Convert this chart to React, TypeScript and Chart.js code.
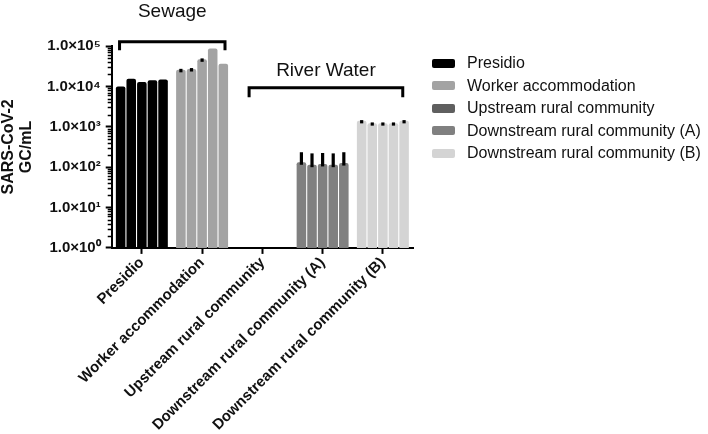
import React, { useEffect, useRef } from 'react';
import { Chart, registerables } from 'chart.js';

Chart.register(...registerables);

const FONT = '"Liberation Sans", Arial, sans-serif';

// ---- data ----
const categories = [
  'Presidio',
  'Worker accommodation',
  'Upstream rural community',
  'Downstream rural community (A)',
  'Downstream rural community (B)',
];
const categoryColors = ['#000000', '#a3a3a3', '#5f5f5f', '#808080', '#d4d4d4'];

// five replicate measurements per site (GC/mL)
const presidio = [10000, 15500, 12900, 14100, 14800];
const worker = [25700, 26900, 46800, 87000, 36300];
const upstream = [null, null, null, null, null];
const downstreamA = [132, 115, 120, 115, 126];
const downstreamB = [1400, 1230, 1230, 1230, 1400];

// upper error (SD) per replicate
const presidioErr = [0, 0, 0, 0, 0];
const workerErr = [1500, 1500, 2500, 0, 0];
const upstreamErr = [null, null, null, null, null];
const downstreamAErr = [102, 104, 104, 104, 108];
const downstreamBErr = [60, 50, 50, 50, 60];

const yMajorTicks = [1, 10, 100, 1000, 10000, 100000];
const yTickLabels = ['1.0×10⁰', '1.0×10¹', '1.0×10²', '1.0×10³', '1.0×10⁴', '1.0×10⁵'];
const yMinorMultipliers = [2, 3, 4, 5, 6, 7, 8, 9];

// group brackets (x in category units, y in data units)
const groupTitles = ['Sewage', 'River Water'];
const groupFrom = [-0.37, 1.78];
const groupTo = [1.38, 4.33];
const groupBracketTop = [128000, 9300];
const groupBracketFoot = [79000, 5400];
const groupTitleBaseline = [531000, 18100];

const siteValues = [presidio, worker, upstream, downstreamA, downstreamB];
const siteErrors = [presidioErr, workerErr, upstreamErr, downstreamAErr, downstreamBErr];

const overlayPlugin = {
  id: 'overlay',
  afterDatasetsDraw(chart: any) {
    const ctx = chart.ctx;
    const ys = chart.scales.y;
    ctx.save();
    chart.data.datasets.forEach((ds: any, i: number) => {
      const meta = chart.getDatasetMeta(i);
      meta.data.forEach((el: any, j: number) => {
        const v = ds.data[j];
        const e = ds.errors[j];
        if (v == null || !e) return;
        const yTop = ys.getPixelForValue(v + e);
        ctx.fillStyle = '#000';
        ctx.fillRect(el.x - 1.6, yTop, 3.2, el.y - yTop + 2.5);
      });
    });
    ctx.restore();
  },
  afterDraw(chart: any) {
    const ctx = chart.ctx;
    const xs = chart.scales.x;
    const ys = chart.scales.y;
    ctx.save();
    ctx.strokeStyle = '#000';
    ctx.lineWidth = 1.5;
    const axisX = ys.right;
    for (let m = 0; m < yMajorTicks.length - 1; m++) {
      for (const k of yMinorMultipliers) {
        const py = Math.round(ys.getPixelForValue(yMajorTicks[m] * k)) + 0.5;
        ctx.beginPath();
        ctx.moveTo(axisX - 4, py);
        ctx.lineTo(axisX, py);
        ctx.stroke();
      }
    }
    ctx.lineWidth = 3;
    ctx.lineJoin = 'miter';
    ctx.lineCap = 'butt';
    for (let g = 0; g < groupTitles.length; g++) {
      const xl = xs.getPixelForValue(groupFrom[g]);
      const xr = xs.getPixelForValue(groupTo[g]);
      const yt = ys.getPixelForValue(groupBracketTop[g]);
      const yf = ys.getPixelForValue(groupBracketFoot[g]);
      ctx.beginPath();
      ctx.moveTo(xl, yf);
      ctx.lineTo(xl, yt);
      ctx.lineTo(xr, yt);
      ctx.lineTo(xr, yf);
      ctx.stroke();
      ctx.fillStyle = '#111';
      ctx.font = `19px ${FONT}`;
      ctx.textAlign = 'center';
      ctx.textBaseline = 'alphabetic';
      ctx.fillText(groupTitles[g], (xl + xr) / 2, ys.getPixelForValue(groupTitleBaseline[g]));
    }
    ctx.restore();
  },
};

export default function App() {
  const canvasRef = useRef<HTMLCanvasElement | null>(null);

  useEffect(() => {
    if (!canvasRef.current) return;
    Chart.defaults.font.family = FONT;
    const datasets = [0, 1, 2, 3, 4].map((r) => ({
      label: `Replicate ${r + 1}`,
      data: siteValues.map((s) => s[r]),
      errors: siteErrors.map((s) => s[r]),
      backgroundColor: categoryColors,
      borderWidth: 0,
      borderRadius: { topLeft: 2, topRight: 2, bottomLeft: 0, bottomRight: 0 },
      borderSkipped: false,
      categoryPercentage: 0.88,
      barPercentage: 0.9,
    }));
    const chart = new Chart(canvasRef.current, {
      type: 'bar',
      data: { labels: categories, datasets: datasets as any },
      plugins: [overlayPlugin],
      options: {
        responsive: false,
        animation: false,
        layout: { padding: { top: 46, right: 295, left: 0, bottom: 0 } },
        plugins: { legend: { display: false }, tooltip: { enabled: false } },
        scales: {
          x: {
            grid: {
              display: true,
              drawOnChartArea: false,
              offset: false,
              tickLength: 6,
              tickWidth: 2,
              tickColor: '#000',
            },
            border: { color: '#000', width: 2 },
            ticks: {
              minRotation: 45,
              maxRotation: 45,
              autoSkip: false,
              color: '#111',
              padding: 0,
              font: { size: 15, weight: 'bold' },
            },
          },
          y: {
            type: 'logarithmic',
            min: 1,
            max: 100000,
            afterBuildTicks: (scale: any) => {
              scale.ticks = yMajorTicks.map((v) => ({ value: v, major: true }));
            },
            grid: {
              drawOnChartArea: false,
              tickLength: 6,
              tickWidth: 2,
              tickColor: '#000',
            },
            border: { color: '#000', width: 2 },
            ticks: {
              autoSkip: false,
              color: '#111',
              padding: 5,
              font: { size: 15, weight: 'bold' },
              callback: (value: any) => {
                const i = yMajorTicks.indexOf(Number(value));
                return i >= 0 ? yTickLabels[i] : '';
              },
            },
            title: {
              display: true,
              text: ['SARS-CoV-2', 'GC/mL'],
              color: '#111',
              font: { size: 16, weight: 'bold', lineHeight: 1.125 },
              padding: { top: 0, bottom: 6 },
            },
          },
        },
      } as any,
    });
    return () => chart.destroy();
  }, []);

  const legendTop = 52;
  return (
    <div style={{ position: 'fixed', left: 0, top: 0, width: 708, height: 434, background: '#fff' }}>
      <canvas ref={canvasRef} width={708} height={434} style={{ display: 'block' }} />
      <div style={{ position: 'absolute', left: 432, top: legendTop, fontFamily: FONT, fontSize: 16, color: '#111' }}>
        {categories.map((c, i) => (
          <div key={c} style={{ display: 'flex', alignItems: 'center', height: 22.5 }}>
            <span
              style={{
                display: 'inline-block',
                width: 23,
                height: 9,
                borderRadius: 2,
                background: categoryColors[i],
                marginRight: 12,
              }}
            />
            <span style={{ whiteSpace: 'nowrap' }}>{c}</span>
          </div>
        ))}
      </div>
    </div>
  );
}
